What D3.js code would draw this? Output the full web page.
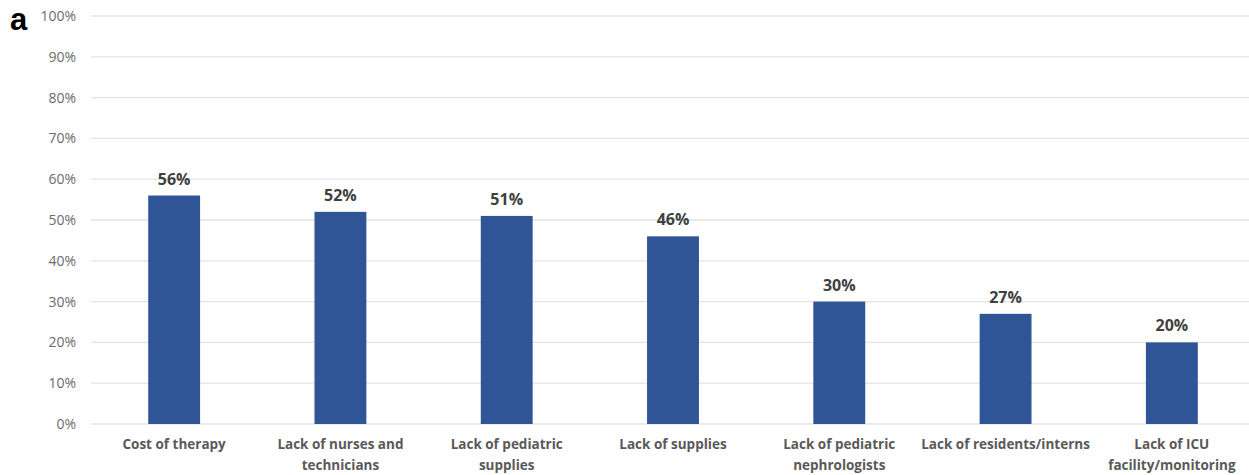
<!DOCTYPE html>
<html>
<head>
<meta charset="utf-8">
<script src="https://cdn.jsdelivr.net/npm/d3@7"></script>
<style>
  html, body { margin: 0; padding: 0; background: #fff; }
  svg { display: block; }
</style>
</head>
<body>
<svg id="chart" width="1249" height="475"></svg>
<script>
const categories = [
  ["Cost of therapy"],
  ["Lack of nurses and", "technicians"],
  ["Lack of pediatric", "supplies"],
  ["Lack of supplies"],
  ["Lack of pediatric", "nephrologists"],
  ["Lack of residents/interns"],
  ["Lack of ICU", "facility/monitoring"]
];
const values = [56, 52, 51, 46, 30, 27, 20];
const yTicks = [0, 10, 20, 30, 40, 50, 60, 70, 80, 90, 100];

const svg = d3.select("#chart");
const font = "'Open Sans', 'Liberation Sans', sans-serif";

const x = d3.scaleBand()
  .domain(d3.range(categories.length))
  .range([91, 1255])
  .paddingInner(0.688)
  .paddingOuter(0.344);

const y = d3.scaleLinear().domain([0, 100]).range([424, 16]);

// Horizontal gridlines
svg.append("g")
  .selectAll("line")
  .data(yTicks)
  .join("line")
  .attr("x1", 91).attr("x2", 1249)
  .attr("y1", d => y(d)).attr("y2", d => y(d))
  .attr("stroke", "#e3e3e3")
  .attr("stroke-width", 1.3);

// Y axis labels
const yAxis = d3.axisLeft(y).tickValues(yTicks).tickFormat(d => d + "%").tickSize(0).tickPadding(0);
const yg = svg.append("g").attr("transform", "translate(76,0)").call(yAxis);
yg.select(".domain").remove();
yg.selectAll("text")
  .attr("font-family", font)
  .attr("font-size", 14)
  .attr("fill", "#6b6b6b");

// Bars
svg.append("g")
  .selectAll("rect")
  .data(values)
  .join("rect")
  .attr("x", (d, i) => x(i))
  .attr("width", x.bandwidth())
  .attr("y", d => y(d))
  .attr("height", d => y(0) - y(d))
  .attr("fill", "#2f5597");

// Value labels
svg.append("g")
  .selectAll("text")
  .data(values)
  .join("text")
  .attr("x", (d, i) => x(i) + x.bandwidth() / 2)
  .attr("y", d => y(d) - 11)
  .attr("text-anchor", "middle")
  .attr("font-family", font)
  .attr("font-weight", "bold")
  .attr("font-size", 16)
  .attr("fill", "#404040")
  .text(d => d + "%");

// Category labels
const cat = svg.append("g")
  .selectAll("text")
  .data(categories)
  .join("text")
  .attr("x", (d, i) => x(i) + x.bandwidth() / 2)
  .attr("y", 449)
  .attr("text-anchor", "middle")
  .attr("font-family", font)
  .attr("font-weight", "bold")
  .attr("font-size", 13.5)
  .attr("fill", "#595959");
cat.selectAll("tspan")
  .data(d => d)
  .join("tspan")
  .attr("x", function () { return d3.select(this.parentNode).attr("x"); })
  .attr("dy", (d, i) => i === 0 ? 0 : 21)
  .text(d => d);

// Panel letter
svg.append("text")
  .attr("x", 10).attr("y", 30)
  .attr("font-family", "'Liberation Sans', Arial, sans-serif")
  .attr("font-weight", "bold")
  .attr("font-size", 31)
  .attr("fill", "#000")
  .text("a");
</script>
</body>
</html>
